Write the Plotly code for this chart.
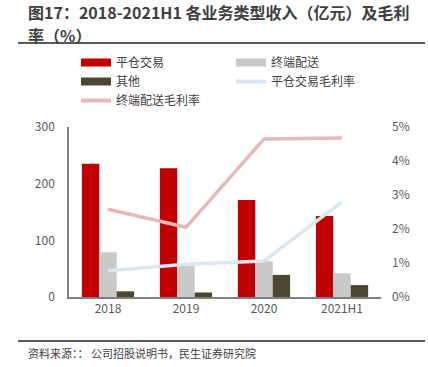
import plotly.graph_objects as go

categories = ["2018", "2019", "2020", "2021H1"]
pingcang = [235, 227, 171, 143]
zhongduan = [79, 56, 63, 42]
qita = [10, 8, 39, 21]
pingcang_margin = [0.0077, 0.0096, 0.0106, 0.0280]
zhongduan_margin = [0.0258, 0.0205, 0.0465, 0.0468]

C_RED = "#C00000"
C_GRAY = "#C9C9C9"
C_DARK = "#4B4731"
C_BLUE = "#DCE6F2"
C_PINK = "#E6B9B8"
FONT = "Noto Sans CJK SC, Open Sans, sans-serif"

fig = go.Figure()
for name, vals, col in [("平仓交易", pingcang, C_RED), ("终端配送", zhongduan, C_GRAY), ("其他", qita, C_DARK)]:
    fig.add_trace(go.Bar(x=categories, y=vals, name=name, marker_color=col,
                         marker_line_width=0, showlegend=False))

fig.add_trace(go.Scatter(x=categories, y=pingcang_margin, name="平仓交易毛利率", mode="lines",
                         line=dict(color=C_BLUE, width=3.5), yaxis="y2", showlegend=False))
fig.add_trace(go.Scatter(x=categories, y=zhongduan_margin, name="终端配送毛利率", mode="lines",
                         line=dict(color=C_PINK, width=3.5), yaxis="y2", showlegend=False))

# legend proxies
for name, col, w in [("平仓交易", C_RED, 8), ("终端配送", C_GRAY, 8), ("其他", C_DARK, 8),
                     ("平仓交易毛利率", C_BLUE, 4), ("终端配送毛利率", C_PINK, 4)]:
    fig.add_trace(go.Scatter(x=[None], y=[None], name=name, mode="lines",
                             line=dict(color=col, width=w), showlegend=True))

L, R, T, B = 69, 47, 127, 70
W, H = 428, 367
pw, ph = W - L - R, H - T - B
def px(x): return (x - L) / pw
def py(y): return (H - B - y) / ph

fig.update_layout(
    width=W, height=H,
    margin=dict(l=L, r=R, t=T, b=B, autoexpand=False),
    paper_bgcolor="white", plot_bgcolor="white",
    font=dict(family=FONT, size=12, color="#595959"),
    barmode="group", bargap=0.33, bargroupgap=0,
    xaxis=dict(showline=True, linecolor="#808080", linewidth=1.5, ticks="",
               tickfont=dict(size=12, color="#595959"), showgrid=False),
    yaxis=dict(range=[0, 300], dtick=100, showline=True, linecolor="#808080", linewidth=1.5,
               showgrid=False, zeroline=False, ticks="", ticklabelstandoff=10,
               tickfont=dict(size=12, color="#595959")),
    yaxis2=dict(range=[0, 0.05], dtick=0.01, tickformat=".0%", overlaying="y", side="right",
                showgrid=False, zeroline=False, showline=False, ticks="", ticklabelstandoff=10,
                tickfont=dict(size=12, color="#595959")),
    legend=dict(orientation="h", x=px(76), y=py(48), xanchor="left", yanchor="top",
                entrywidth=110, entrywidthmode="pixels", tracegroupgap=0,
                font=dict(size=12, color="#404040", family=FONT), bgcolor="rgba(0,0,0,0)"),
    showlegend=True,
)

fig.add_annotation(text="<b>图17：2018-2021H1 各业务类型收入（亿元）及毛利</b>",
                   xref="paper", yref="paper", x=px(27), y=py(12), xanchor="left", yanchor="middle",
                   align="left", showarrow=False, borderpad=0,
                   font=dict(size=16, color="#404040", family=FONT))
fig.add_annotation(text="<b>率（%）</b>",
                   xref="paper", yref="paper", x=px(27), y=py(35.5), xanchor="left", yanchor="middle",
                   align="left", showarrow=False, borderpad=0,
                   font=dict(size=16, color="#404040", family=FONT))
fig.add_annotation(text="资料来源：： 公司招股说明书，民生证券研究院",
                   xref="paper", yref="paper", x=px(26), y=py(353), xanchor="left", yanchor="middle",
                   align="left", showarrow=False, font=dict(size=11, color="#404040", family=FONT))
fig.add_shape(type="line", xref="paper", yref="paper", x0=px(18), x1=px(425), y0=py(43), y1=py(43),
              line=dict(color="#595959", width=2))
fig.add_shape(type="line", xref="paper", yref="paper", x0=px(18), x1=px(425), y0=py(341), y1=py(341),
              line=dict(color="#595959", width=2))

fig.write_html("out.html", config={"displayModeBar": False},
               post_script="document.body.style.margin='0';document.body.style.padding='0';")
